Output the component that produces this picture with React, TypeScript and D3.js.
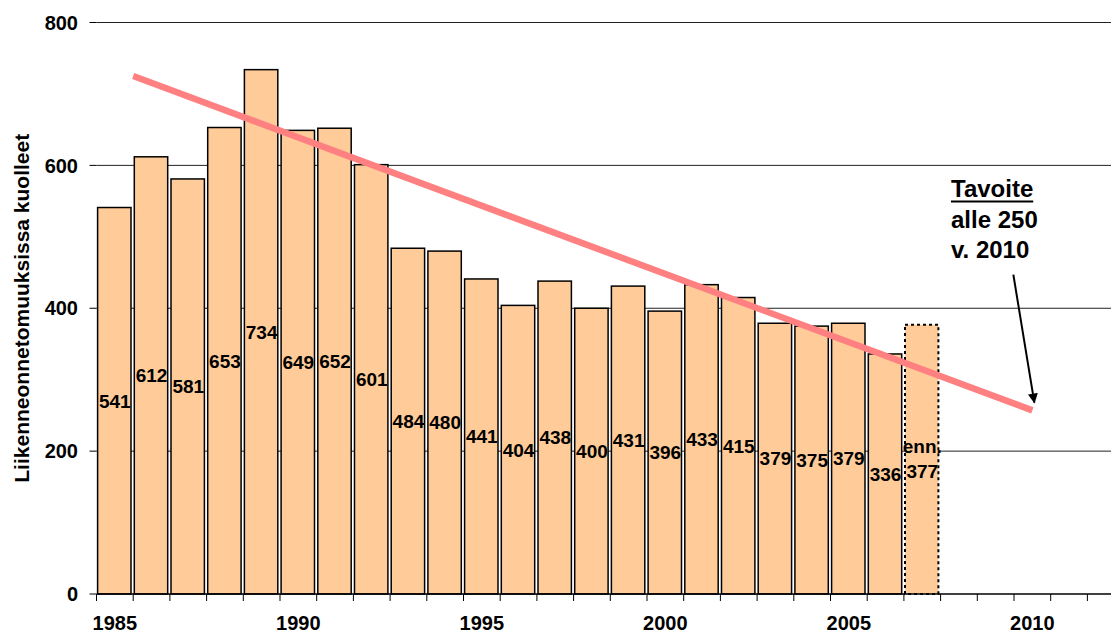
import React, { useRef, useEffect } from 'react';
import * as d3 from 'd3';

// axis categories (the plot runs a little past the right edge of the picture)
const axisYears = [
  1985, 1986, 1987, 1988, 1989, 1990, 1991, 1992, 1993, 1994, 1995, 1996, 1997, 1998,
  1999, 2000, 2001, 2002, 2003, 2004, 2005, 2006, 2007, 2008, 2009, 2010, 2011, 2012,
];
const labelYears = [1985, 1990, 1995, 2000, 2005, 2010];
const yTicks = [0, 200, 400, 600, 800];

// deaths in road traffic accidents
const years = [
  1985, 1986, 1987, 1988, 1989, 1990, 1991, 1992, 1993, 1994, 1995, 1996,
  1997, 1998, 1999, 2000, 2001, 2002, 2003, 2004, 2005, 2006, 2007,
];
const deaths = [
  541, 612, 581, 653, 734, 649, 652, 601, 484, 480, 441, 404,
  438, 400, 431, 396, 433, 415, 379, 375, 379, 336, 377,
];
const estimated = [
  false, false, false, false, false, false, false, false, false, false, false, false,
  false, false, false, false, false, false, false, false, false, false, true,
];

// target line
const trendYears = [1985.5, 2010];
const trendValues = [725, 257];

const App: React.FC = () => {
  const svgRef = useRef<SVGSVGElement | null>(null);

  useEffect(() => {
    document.body.style.margin = '0';
    const width = 1111;
    const height = 634;
    const margin = { top: 22.5, left: 96.5, bottom: 40 };
    const bandW = 36.7;

    const svg = d3.select(svgRef.current);
    svg.selectAll('*').remove();
    svg.attr('width', width).attr('height', height).style('display', 'block')
      .style('font-family', 'Arial, "Liberation Sans", sans-serif');

    const x = d3.scaleBand<string>()
      .domain(axisYears.map(String))
      .range([margin.left, margin.left + bandW * axisYears.length])
      .padding(0);

    const y = d3.scaleLinear().domain([0, 800]).range([594, margin.top]);

    const bw = x.bandwidth();
    const xc = d3.scaleLinear()
      .domain([axisYears[0], axisYears[axisYears.length - 1]])
      .range([(x(String(axisYears[0])) as number) + bw / 2,
        (x(String(axisYears[axisYears.length - 1])) as number) + bw / 2]);

    // gridlines
    svg.append('g')
      .selectAll('line')
      .data(yTicks.filter(d => d > 0))
      .enter()
      .append('line')
      .attr('x1', margin.left)
      .attr('x2', width)
      .attr('y1', d => y(d))
      .attr('y2', d => y(d))
      .attr('stroke', '#222')
      .attr('stroke-width', 1);

    // y tick marks and labels
    const yAxis = svg.append('g');
    yAxis.selectAll('line')
      .data(yTicks)
      .enter()
      .append('line')
      .attr('x1', margin.left - 7)
      .attr('x2', margin.left)
      .attr('y1', d => y(d))
      .attr('y2', d => y(d))
      .attr('stroke', '#000');
    yAxis.selectAll('text')
      .data(yTicks)
      .enter()
      .append('text')
      .attr('x', 78)
      .attr('y', d => y(d))
      .attr('dy', '0.36em')
      .attr('text-anchor', 'end')
      .attr('font-size', 20)
      .attr('font-weight', 'bold')
      .text(d => d);

    svg.append('text')
      .attr('transform', `translate(29,${(y(0) + y(800)) / 2}) rotate(-90)`)
      .attr('text-anchor', 'middle')
      .attr('font-size', 21)
      .attr('font-weight', 'bold')
      .text('Liikenneonnetomuuksissa kuolleet');

    // bars
    const bars = svg.append('g');
    years.forEach((yr, i) => {
      const bx = (x(String(yr)) as number) + bw * 0.03;
      const bwid = bw * 0.91;
      bars.append('rect')
        .attr('x', bx)
        .attr('y', y(deaths[i]))
        .attr('width', bwid)
        .attr('height', y(0) - y(deaths[i]))
        .attr('fill', '#FFCC99')
        .attr('stroke', '#000')
        .attr('stroke-width', estimated[i] ? 2 : 1.5)
        .attr('stroke-dasharray', estimated[i] ? '3,3' : null);
    });

    // value labels in the middle of each bar
    const labels = svg.append('g')
      .attr('font-size', 19)
      .attr('font-weight', 'bold')
      .attr('text-anchor', 'middle');
    years.forEach((yr, i) => {
      const cx = (x(String(yr)) as number) + bw / 2;
      const cy = (y(0) + y(deaths[i])) / 2;
      if (estimated[i]) {
        labels.append('text').attr('x', cx).attr('y', cy - 6).text('enn.');
        labels.append('text').attr('x', cx).attr('y', cy + 19).text(deaths[i]);
      } else {
        labels.append('text').attr('x', cx).attr('y', cy).attr('dy', '0.36em').text(deaths[i]);
      }
    });

    // x axis
    const xAxis = svg.append('g');
    xAxis.append('line')
      .attr('x1', margin.left)
      .attr('x2', width)
      .attr('y1', y(0))
      .attr('y2', y(0))
      .attr('stroke', '#000')
      .attr('stroke-width', 1.5);
    xAxis.selectAll('line.tick')
      .data(axisYears)
      .enter()
      .append('line')
      .attr('class', 'tick')
      .attr('x1', d => x(String(d)) as number)
      .attr('x2', d => x(String(d)) as number)
      .attr('y1', y(0))
      .attr('y2', y(0) + 7)
      .attr('stroke', '#000');
    xAxis.selectAll('text')
      .data(labelYears)
      .enter()
      .append('text')
      .attr('x', d => (x(String(d)) as number) + bw / 2)
      .attr('y', 630)
      .attr('text-anchor', 'middle')
      .attr('font-size', 20)
      .attr('font-weight', 'bold')
      .text(d => d);

    // target trend line
    const line = d3.line<number>()
      .x((d, i) => xc(trendYears[i]))
      .y(d => y(d));
    svg.append('path')
      .datum(trendValues)
      .attr('d', line)
      .attr('fill', 'none')
      .attr('stroke', '#FF8080')
      .attr('stroke-width', 6.5);

    // annotation
    const ann = svg.append('g').attr('font-size', 24).attr('font-weight', 'bold');
    const t1 = ann.append('text').attr('x', 951).attr('y', 197).text('Tavoite');
    ann.append('text').attr('x', 951).attr('y', 228).text('alle 250');
    ann.append('text').attr('x', 951).attr('y', 258).text('v. 2010');
    const tw = (t1.node() as SVGTextElement).getComputedTextLength();
    ann.append('line')
      .attr('x1', 951).attr('x2', 951 + tw)
      .attr('y1', 201.5).attr('y2', 201.5)
      .attr('stroke', '#000').attr('stroke-width', 2.2);

    svg.append('defs').append('marker')
      .attr('id', 'arrowHead')
      .attr('viewBox', '0 0 10 10')
      .attr('refX', 9).attr('refY', 5)
      .attr('markerWidth', 5).attr('markerHeight', 5)
      .attr('orient', 'auto')
      .append('path')
      .attr('d', 'M0,0 L10,5 L0,10 z')
      .attr('fill', '#000');
    svg.append('line')
      .attr('x1', xc(2010) - 19).attr('y1', y(447))
      .attr('x2', xc(2010) + 2).attr('y2', y(268))
      .attr('stroke', '#000')
      .attr('stroke-width', 2)
      .attr('marker-end', 'url(#arrowHead)');
  }, []);

  return <svg ref={svgRef}></svg>;
};

export default App;
